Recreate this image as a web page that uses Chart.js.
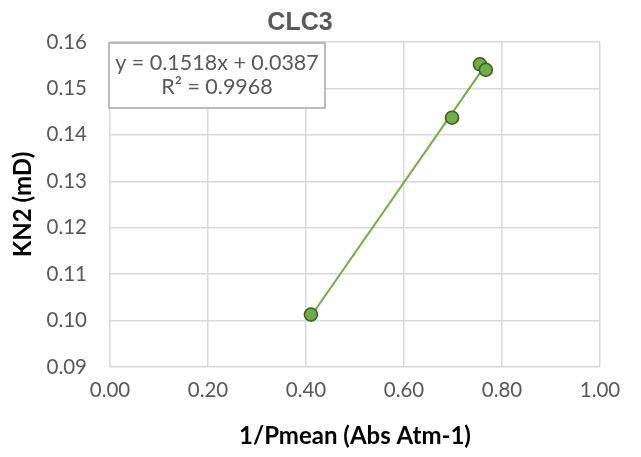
<!DOCTYPE html>
<html>
<head>
<meta charset="utf-8">
<script src="https://cdn.jsdelivr.net/npm/chart.js@4"></script>
<style>
  html, body { margin: 0; padding: 0; background: #fff; }
  #wrap { width: 641px; height: 457px; }
</style>
</head>
<body>
<div id="wrap"><canvas id="clc3"></canvas></div>
<script>
// measured points
const invPmean = [0.41, 0.698, 0.755, 0.767];
const kn2 = [0.1013, 0.1437, 0.1552, 0.1540];

// linear fit shown in the label box
const slope = 0.1518;
const intercept = 0.0387;
const rSquared = 0.9968;

const xTicks = [0.0, 0.2, 0.4, 0.6, 0.8, 1.0];
const yTicks = [0.09, 0.10, 0.11, 0.12, 0.13, 0.14, 0.15, 0.16];

const FONT = "Lato, 'Open Sans', sans-serif";
const GREEN = "#70AD47";
const DARK_GREEN = "#3B5E22";
const GRID = "#D9D9D9";
const TICK_GREY = "#595959";

const points = invPmean.map((x, i) => ({ x: x, y: kn2[i] }));

const xMin = Math.min(...invPmean);
const xMax = Math.max(...invPmean);
const trend = [xMin, xMax].map(x => ({ x: x, y: slope * x + intercept }));

// equation label in the top left of the plot
const equationBox = {
  id: "equationBox",
  afterDatasetsDraw(chart) {
    const ctx = chart.ctx;
    const area = chart.chartArea;
    const left = area.left - 1;
    const top = area.top + 1;
    const w = 216;
    const h = 65;

    ctx.save();
    ctx.fillStyle = "#fff";
    ctx.fillRect(left, top, w, h);
    ctx.strokeStyle = "#A6A6A6";
    ctx.lineWidth = 1.5;
    ctx.strokeRect(left, top, w, h);

    ctx.fillStyle = TICK_GREY;
    ctx.font = "21.5px " + FONT;
    ctx.textAlign = "center";
    ctx.textBaseline = "middle";
    ctx.fillText("y = " + slope.toFixed(4) + "x + " + intercept.toFixed(4), left + w / 2, top + 20);
    ctx.fillText("R² = " + rSquared.toFixed(4), left + w / 2, top + 44);
    ctx.restore();
  }
};

new Chart(document.getElementById("clc3"), {
  type: "scatter",
  data: {
    datasets: [
      {
        label: "KN2",
        data: points,
        backgroundColor: GREEN,
        borderColor: DARK_GREEN,
        borderWidth: 1.5,
        pointRadius: 6.5,
        order: 1
      },
      {
        label: "Linear",
        data: trend,
        showLine: true,
        borderColor: GREEN,
        borderWidth: 2,
        pointRadius: 0,
        order: 2
      }
    ]
  },
  options: {
    responsive: true,
    maintainAspectRatio: false,
    animation: false,
    layout: { padding: { right: 41, left: 0, top: 0, bottom: 0 } },
    plugins: {
      legend: { display: false },
      tooltip: { enabled: false },
      title: {
        display: true,
        text: "CLC3",
        color: TICK_GREY,
        font: { family: "'Liberation Sans', Arial, sans-serif", size: 25, weight: "bold" },
        padding: { top: 8, bottom: 4 }
      }
    },
    scales: {
      x: {
        type: "linear",
        min: 0,
        max: 1,
        afterBuildTicks: scale => {
          scale.ticks = xTicks.map(v => ({ value: v }));
        },
        afterFit: scale => { scale.height = 90; },
        grid: { color: GRID, lineWidth: 1.5, drawTicks: false },
        border: { display: false },
        ticks: {
          color: TICK_GREY,
          padding: 11,
          font: { family: FONT, size: 20.5 },
          callback: v => v.toFixed(2)
        },
        title: {
          display: true,
          text: "1/Pmean (Abs Atm-1)",
          color: "#000",
          font: { family: FONT, size: 24, weight: "bold" },
          padding: { top: 4, bottom: 6 }
        }
      },
      y: {
        type: "linear",
        min: 0.09,
        max: 0.16,
        afterBuildTicks: scale => {
          scale.ticks = yTicks.map(v => ({ value: v }));
        },
        afterFit: scale => { scale.width = 110; },
        grid: { color: GRID, lineWidth: 1.5, drawTicks: false },
        border: { display: false },
        ticks: {
          color: TICK_GREY,
          padding: 23,
          font: { family: FONT, size: 20.5 },
          callback: v => v.toFixed(2)
        },
        title: {
          display: true,
          text: "KN2 (mD)",
          color: "#000",
          font: { family: FONT, size: 24, weight: "bold" },
          padding: { top: 9, bottom: 0 }
        }
      }
    }
  },
  plugins: [equationBox]
});
</script>
</body>
</html>
